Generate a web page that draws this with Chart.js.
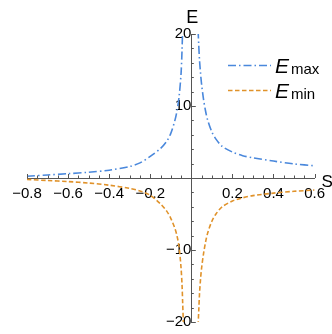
<!DOCTYPE html>
<html>
<head>
<meta charset="utf-8">
<script src="https://cdn.jsdelivr.net/npm/chart.js"></script>
<style>
  html, body { margin: 0; padding: 0; background: #fff; }
  #wrap { width: 332px; height: 334px; }
</style>
</head>
<body>
<div id="wrap"><canvas id="myChart" width="332" height="334"></canvas></div>
<script>
// s values on each side of the pole at s = 0
const sLeft = [-0.8, -0.7, -0.6, -0.5, -0.4, -0.3, -0.25, -0.2, -0.15, -0.12, -0.1, -0.08, -0.07, -0.06, -0.05, -0.045, -0.042, -0.039, -0.036];
const sRight = [0.033, 0.036, 0.04, 0.045, 0.05, 0.06, 0.07, 0.08, 0.1, 0.12, 0.15, 0.2, 0.25, 0.3, 0.4, 0.5, 0.6];

// upper branch
const eMaxLeft = [0.25, 0.42, 0.6, 0.8, 1.08, 1.6, 2.1, 3.0, 4.1, 5.1, 6.2, 8.0, 9.3, 11.2, 14.5, 18.0, 21.0, 24.0, 28.0];
const eMaxRight = [20.5, 18.5, 16.3, 14.5, 13.0, 10.8, 9.2, 8.0, 6.4, 5.4, 4.4, 3.6, 3.1, 2.8, 2.35, 1.95, 1.7];

// lower branch
const eMinLeft = [-0.2, -0.35, -0.5, -0.7, -1.0, -1.45, -1.8, -2.4, -3.6, -4.6, -5.6, -7.0, -8.0, -9.5, -12.5, -15.0, -17.5, -20.0, -24.0];
const eMinRight = [-20.5, -18.5, -16.0, -14.0, -12.5, -10.4, -8.8, -7.6, -6.0, -5.0, -4.0, -3.2, -2.75, -2.45, -2.1, -1.85, -1.67];

const xLabels = [-0.8, -0.6, -0.4, -0.2, 0.2, 0.4, 0.6];
const yLabels = [-20, -10, 10, 20];

const blue = '#4a88dc';
const orange = '#e0922a';
const axisColor = '#555';
const font = '"Liberation Sans", Arial, sans-serif';

// join the two sides with a gap at s = 0
function branch(left, right) {
  const pts = sLeft.map((s, i) => ({ x: s, y: left[i] }));
  pts.push({ x: 0, y: null });
  sRight.forEach((s, i) => pts.push({ x: s, y: right[i] }));
  return pts;
}

const near = (a, b) => Math.abs(a - b) < 1e-6;
const fmt = v => (v < 0 ? '\u2212' : '') + Math.abs(v).toString();

// tick marks on the axes, major ones a bit longer
const tickMarks = {
  id: 'tickMarks',
  afterDatasetsDraw(chart) {
    const { ctx, scales: { x, y } } = chart;
    const y0 = y.getPixelForValue(0);
    const x0 = x.getPixelForValue(0);
    ctx.save();
    ctx.strokeStyle = axisColor;
    ctx.lineWidth = 1;
    ctx.beginPath();
    x.ticks.forEach(t => {
      const px = Math.round(x.getPixelForValue(t.value)) + 0.5;
      const len = xLabels.some(v => near(v, t.value)) ? 4 : 2.5;
      ctx.moveTo(px, y0);
      ctx.lineTo(px, y0 - len);
    });
    y.ticks.forEach(t => {
      const py = Math.round(y.getPixelForValue(t.value)) + 0.5;
      const len = yLabels.some(v => near(v, t.value)) ? 4.5 : 2.5;
      ctx.moveTo(x0, py);
      ctx.lineTo(x0 + len, py);
    });
    ctx.stroke();

    // axis names
    ctx.fillStyle = '#000';
    ctx.font = '18px ' + font;
    ctx.textAlign = 'center';
    ctx.textBaseline = 'alphabetic';
    ctx.fillText('E', x0 + 1, 23);
    ctx.textAlign = 'left';
    ctx.font = '17px ' + font;
    ctx.fillText('S', x.right + 7, y0 + 9);
    ctx.restore();
  }
};

// legend with subscripted labels
const sideLegend = {
  id: 'sideLegend',
  afterDraw(chart) {
    const ctx = chart.ctx;
    const items = [
      { sub: 'max', color: blue, dash: [8, 3, 1.5, 3], y: 65 },
      { sub: 'min', color: orange, dash: [4.5, 2.5], y: 90 }
    ];
    ctx.save();
    items.forEach(it => {
      ctx.strokeStyle = it.color;
      ctx.lineWidth = 1.6;
      ctx.setLineDash(it.dash);
      ctx.beginPath();
      ctx.moveTo(228, it.y + 0.5);
      ctx.lineTo(271, it.y + 0.5);
      ctx.stroke();
      ctx.setLineDash([]);
      ctx.fillStyle = '#000';
      ctx.textAlign = 'left';
      ctx.textBaseline = 'alphabetic';
      ctx.font = 'italic 21px ' + font;
      ctx.fillText('E', 275, it.y + 8);
      ctx.font = '15px ' + font;
      ctx.fillText(it.sub, 291, it.y + 9);
    });
    ctx.restore();
  }
};

const ctx = document.getElementById('myChart').getContext('2d');
const myChart = new Chart(ctx, {
  type: 'line',
  data: {
    datasets: [
      {
        label: 'Emax',
        data: branch(eMaxLeft, eMaxRight),
        borderColor: blue,
        borderWidth: 1.6,
        borderDash: [8, 3, 1.5, 3],
        pointRadius: 0,
        tension: 0.3,
        spanGaps: false,
        clip: 0
      },
      {
        label: 'Emin',
        data: branch(eMinLeft, eMinRight),
        borderColor: orange,
        borderWidth: 1.6,
        borderDash: [4.5, 2.5],
        pointRadius: 0,
        tension: 0.3,
        spanGaps: false,
        clip: 0
      }
    ]
  },
  options: {
    responsive: false,
    animation: false,
    devicePixelRatio: 1,
    layout: { padding: { left: 27, right: 16, top: 34, bottom: 12 } },
    plugins: {
      legend: { display: false },
      tooltip: { enabled: false }
    },
    scales: {
      x: {
        type: 'linear',
        min: -0.8,
        max: 0.6,
        position: { y: 0 },
        grid: { drawOnChartArea: false, drawTicks: false },
        border: { display: true, color: axisColor, width: 1 },
        ticks: {
          stepSize: 0.05,
          autoSkip: false,
          maxRotation: 0,
          padding: 7,
          color: '#000',
          font: { family: font, size: 15 },
          callback: v => xLabels.some(l => near(l, v)) ? fmt(Math.round(v * 10) / 10) : ''
        }
      },
      y: {
        type: 'linear',
        min: -20,
        max: 20,
        position: { x: 0 },
        grid: { drawOnChartArea: false, drawTicks: false },
        border: { display: true, color: axisColor, width: 1 },
        ticks: {
          stepSize: 2,
          autoSkip: false,
          padding: 2,
          color: '#000',
          font: { family: font, size: 15 },
          callback: v => yLabels.some(l => near(l, v)) ? fmt(v) : ''
        }
      }
    }
  },
  plugins: [tickMarks, sideLegend]
});
</script>
</body>
</html>
